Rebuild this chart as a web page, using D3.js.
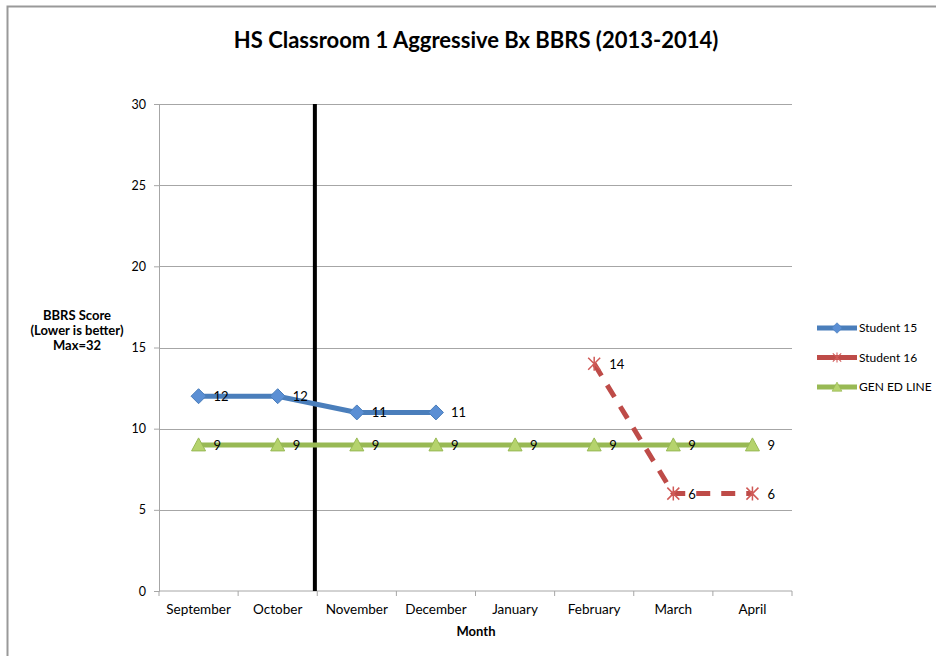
<!DOCTYPE html>
<html>
  <head>
    <meta charset="utf-8" />
    <title>HS Classroom 1 Aggressive Bx BBRS</title>
    <script src="https://d3js.org/d3.v7.min.js"></script>
    <style>
      body {
        margin: 0;
        background: #fff;
      }
      text {
        font-family: Lato, "Open Sans", sans-serif;
        fill: #000;
      }
    </style>
  </head>
  <body>

    <svg id="chart"></svg>

    <script>

      var months = ["September", "October", "November", "December", "January", "February", "March", "April"];
      var student15 = [12, 12, 11, 11, null, null, null, null];
      var student16 = [null, null, null, null, null, 14, 6, 6];
      var genEd = [9, 9, 9, 9, 9, 9, 9, 9];
      var seriesNames = ["Student 15", "Student 16", "GEN ED LINE"];
      var yTicks = [0, 5, 10, 15, 20, 25, 30];
      var phaseChange = 1.97; // between October and November, in month index units

      var width = 936;
      var height = 656;
      var margin = { top: 104, right: 144, bottom: 65, left: 159 };

      var svg = d3.select("#chart")
        .attr("width", width)
        .attr("height", height);

      // frame (left and top edges of the chart object)
      svg.append("path")
        .attr("d", "M7.5," + height + "V6.5H" + width)
        .attr("fill", "none")
        .attr("stroke", "#999")
        .attr("stroke-width", 2);

      var x = d3.scaleBand()
        .domain(months)
        .range([margin.left, width - margin.right]);

      var xIdx = d3.scaleLinear()
        .domain([0, months.length])
        .range([margin.left, width - margin.right]);

      var y = d3.scaleLinear()
        .domain([0, 30])
        .range([height - margin.bottom, margin.top]);

      function cx(i) {
        return x(months[i]) + x.bandwidth() / 2;
      }

      // gridlines
      svg.append("g")
        .selectAll("line")
        .data(yTicks.filter(function(d) { return d > 0; }))
        .join("line")
        .attr("x1", margin.left)
        .attr("x2", width - margin.right)
        .attr("y1", function(d) { return Math.round(y(d)) + 0.5; })
        .attr("y2", function(d) { return Math.round(y(d)) + 0.5; })
        .attr("stroke", "#a6a6a6")
        .attr("stroke-width", 1);

      // y axis
      var yAxis = svg.append("g")
        .attr("transform", "translate(" + margin.left + ",0)")
        .call(d3.axisLeft(y).tickValues(yTicks).tickSize(5).tickPadding(8));
      yAxis.selectAll("path, line").attr("stroke", "#a6a6a6");
      yAxis.selectAll("text").style("font-size", "12.5px").style("font-family", "Lato, sans-serif");

      // x axis with tick marks between categories
      var xAxisG = svg.append("g")
        .attr("transform", "translate(0," + y(0) + ")");
      xAxisG.append("line")
        .attr("x1", margin.left)
        .attr("x2", width - margin.right)
        .attr("stroke", "#a6a6a6");
      xAxisG.selectAll(".tick")
        .data(d3.range(months.length + 1))
        .join("line")
        .attr("class", "tick")
        .attr("x1", function(d) { return xIdx(d); })
        .attr("x2", function(d) { return xIdx(d); })
        .attr("y2", 5)
        .attr("stroke", "#a6a6a6");
      xAxisG.selectAll(".lab")
        .data(months)
        .join("text")
        .attr("class", "lab")
        .attr("x", function(d) { return x(d) + x.bandwidth() / 2; })
        .attr("y", 23)
        .attr("text-anchor", "middle")
        .style("font-size", "13.5px")
        .text(function(d) { return d; });

      // titles
      svg.append("text")
        .attr("x", 476)
        .attr("y", 48)
        .attr("text-anchor", "middle")
        .style("font-size", "22px")
        .style("font-weight", "bold")
        .text("HS Classroom 1 Aggressive Bx BBRS (2013-2014)");

      svg.append("text")
        .attr("x", 476)
        .attr("y", 636)
        .attr("text-anchor", "middle")
        .style("font-size", "13px")
        .style("font-weight", "bold")
        .text("Month");

      var yTitle = svg.append("text")
        .attr("text-anchor", "middle")
        .style("font-size", "13px")
        .style("font-weight", "bold");
      ["BBRS Score", "(Lower is better)", "Max=32"].forEach(function(t, i) {
        yTitle.append("tspan")
          .attr("x", 77)
          .attr("y", 320 + i * 15)
          .text(t);
      });

      // phase change line
      svg.append("line")
        .attr("x1", xIdx(phaseChange))
        .attr("x2", xIdx(phaseChange))
        .attr("y1", y(30))
        .attr("y2", y(0))
        .attr("stroke", "#000")
        .attr("stroke-width", 4);

      var series = [
        { name: seriesNames[0], values: student15, color: "#4a7ebb", dash: null, marker: "diamond" },
        { name: seriesNames[1], values: student16, color: "#be4b48", dash: "14,11", marker: "star" },
        { name: seriesNames[2], values: genEd, color: "#98b954", dash: null, marker: "triangle" }
      ];

      function drawMarker(g, type) {
        if (type === "diamond") {
          g.append("path")
            .attr("d", "M0,-7.5L7.5,0L0,7.5L-7.5,0Z")
            .attr("fill", "#5b8fd4")
            .attr("stroke", "#4a7ebb");
        } else if (type === "triangle") {
          g.append("path")
            .attr("d", "M0,-7L7,6H-7Z")
            .attr("fill", "#b5d36d")
            .attr("stroke", "#98b954");
        } else {
          g.append("path")
            .attr("d", "M-6,-6L6,6M-6,6L6,-6M0,-7V7")
            .attr("stroke", "#d05a57")
            .attr("stroke-width", 1.5)
            .attr("fill", "none");
        }
      }

      var line = d3.line()
        .defined(function(d) { return d.v !== null; })
        .x(function(d) { return cx(d.i); })
        .y(function(d) { return y(d.v); });

      series.forEach(function(s) {
        var pts = s.values.map(function(v, i) { return { v: v, i: i }; });
        svg.append("path")
          .datum(pts)
          .attr("d", line)
          .attr("fill", "none")
          .attr("stroke", s.color)
          .attr("stroke-width", 5)
          .attr("stroke-dasharray", s.dash)
          .attr("stroke-linejoin", "round");

        var valid = pts.filter(function(d) { return d.v !== null; });
        valid.forEach(function(d) {
          var g = svg.append("g")
            .attr("transform", "translate(" + cx(d.i) + "," + y(d.v) + ")");
          drawMarker(g, s.marker);
          svg.append("text")
            .attr("x", cx(d.i) + 15)
            .attr("y", y(d.v) + 5)
            .style("font-size", "13px")
            .text(d.v);
        });
      });

      // legend
      var legend = svg.append("g");
      series.forEach(function(s, i) {
        var ly = 328 + i * 29.5;
        var g = legend.append("g").attr("transform", "translate(0," + ly + ")");
        g.append("line")
          .attr("x1", 817)
          .attr("x2", 857)
          .attr("stroke", s.color)
          .attr("stroke-width", 5);
        var m = g.append("g").attr("transform", "translate(837,0) scale(0.7)");
        drawMarker(m, s.marker);
        g.append("text")
          .attr("x", 859)
          .attr("y", 4)
          .style("font-size", "12px")
          .text(s.name);
      });

    </script>
  </body>
</html>
